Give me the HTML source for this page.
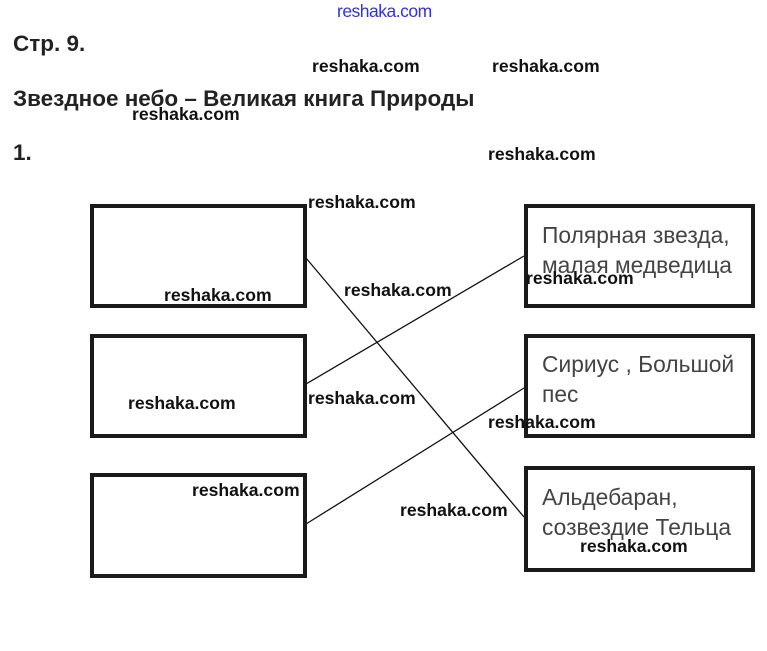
<!DOCTYPE html>
<html><head><meta charset="utf-8"><style>
body{margin:0;width:767px;height:651px;background:#fff;position:relative;overflow:hidden;font-family:"Liberation Sans",sans-serif}
.a{position:absolute;white-space:nowrap}
.h{font-weight:bold;font-size:22.5px;color:#222;left:13px;line-height:24px}
.w{font-weight:bold;font-size:17.6px;color:#111;line-height:18px}
.b{position:absolute;border:4px solid #1a1a1a;box-sizing:border-box}
.t{position:absolute;font-size:22.8px;color:#444;line-height:30px;left:542px;white-space:nowrap}
</style></head><body>
<svg class="a" style="left:0;top:0" width="767" height="651">
<line x1="306" y1="258" x2="524" y2="517" stroke="#111" stroke-width="1.3"/>
<line x1="306" y1="384" x2="524" y2="256" stroke="#111" stroke-width="1.3"/>
<line x1="306" y1="524" x2="524" y2="388" stroke="#111" stroke-width="1.3"/>
</svg>
<div class="b" style="left:90px;top:204px;width:217px;height:104px"></div>
<div class="b" style="left:90px;top:334px;width:217px;height:104px"></div>
<div class="b" style="left:90px;top:473px;width:217px;height:105px"></div>
<div class="b" style="left:524px;top:204px;width:231px;height:104px"></div>
<div class="b" style="left:524px;top:334px;width:231px;height:104px"></div>
<div class="b" style="left:524px;top:466px;width:231px;height:106px"></div>
<div class="t" style="top:220px">Полярная звезда,<br>малая медведица</div>
<div class="t" style="top:349px">Сириус , Большой<br>пес</div>
<div class="t" style="top:482px">Альдебаран,<br>созвездие Тельца</div>
<div class="a h" style="top:32px">Стр. 9.</div>
<div class="a h" style="top:87px">Звездное небо – Великая книга Природы</div>
<div class="a h" style="top:141px">1.</div>
<div class="a" style="left:337px;top:1px;font-size:17.5px;color:#33c;letter-spacing:-0.5px">reshaka.com</div>
<div class="a w" style="left:312px;top:57px">reshaka.com</div>
<div class="a w" style="left:492px;top:57px">reshaka.com</div>
<div class="a w" style="left:132px;top:105px">reshaka.com</div>
<div class="a w" style="left:488px;top:145px">reshaka.com</div>
<div class="a w" style="left:308px;top:193px">reshaka.com</div>
<div class="a w" style="left:164px;top:286px">reshaka.com</div>
<div class="a w" style="left:344px;top:281px">reshaka.com</div>
<div class="a w" style="left:526px;top:269px">reshaka.com</div>
<div class="a w" style="left:128px;top:394px">reshaka.com</div>
<div class="a w" style="left:308px;top:389px">reshaka.com</div>
<div class="a w" style="left:488px;top:413px">reshaka.com</div>
<div class="a w" style="left:192px;top:481px">reshaka.com</div>
<div class="a w" style="left:400px;top:501px">reshaka.com</div>
<div class="a w" style="left:580px;top:537px">reshaka.com</div>
</body></html>
